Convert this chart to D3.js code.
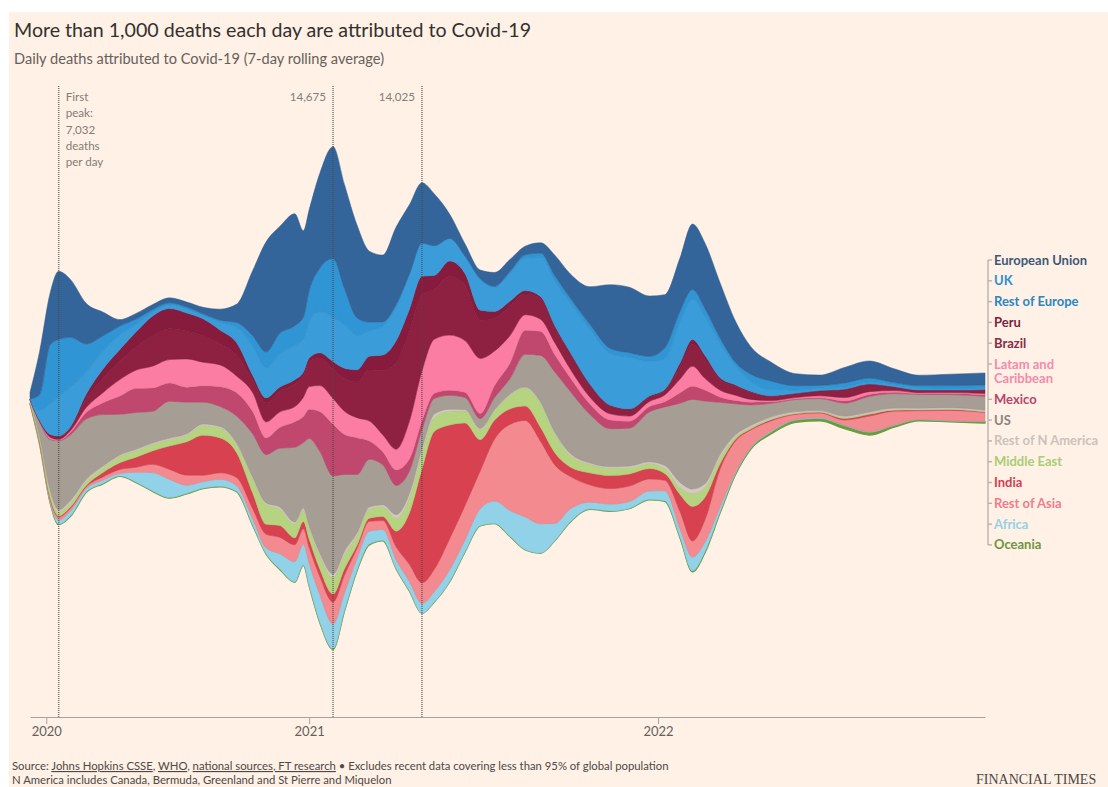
<!DOCTYPE html>
<html>
<head>
<meta charset="utf-8">
<script src="https://cdn.jsdelivr.net/npm/d3@7"></script>
<style>
  body { margin: 0; background: #ffffff; }
  svg text { font-family: Lato, "Open Sans", sans-serif; }
</style>
</head>
<body>
<svg id="chart" width="1108" height="787"></svg>
<script>
// sample dates (7-day rolling average, deaths per day)
const dates = [
  "2020-03-15","2020-03-25","2020-04-05","2020-04-14","2020-04-26","2020-05-13","2020-05-30","2020-06-17",
  "2020-07-04","2020-07-21","2020-08-08","2020-08-26","2020-09-12","2020-09-30","2020-10-17","2020-11-03",
  "2020-11-17","2020-12-01","2020-12-17","2020-12-26","2021-01-01","2021-01-12","2021-01-26","2021-02-07","2021-02-20",
  "2021-03-05","2021-03-19","2021-04-02","2021-04-16","2021-04-29","2021-05-12","2021-05-28","2021-06-13",
  "2021-06-29","2021-07-14","2021-07-30","2021-08-15","2021-08-31","2021-09-15","2021-10-01","2021-10-22",
  "2021-11-12","2021-12-02","2021-12-23","2022-01-08","2022-01-24","2022-02-06","2022-02-19","2022-03-07",
  "2022-03-23","2022-04-08","2022-04-29","2022-05-25","2022-06-19","2022-07-15","2022-08-10","2022-09-05",
  "2022-10-01","2022-11-02","2022-12-09"
];

const europeanUnion = [200,1250,1500,1980,1690,1170,700,190,165,145,145,145,190,320,530,1900,3200,3100,3250,2500,2350,2750,3250,3010,2700,2060,1940,2250,2000,1750,1500,700,350,250,400,350,250,300,600,700,1100,1850,1900,1750,1550,1550,1900,1900,1600,1200,800,550,350,300,450,500,400,300,330,350];
const uk = [5,450,1700,1650,1450,800,450,250,150,80,60,50,40,60,130,300,450,600,560,650,900,1250,1700,1050,500,250,120,50,30,20,15,10,10,15,30,60,90,110,150,130,140,150,130,150,300,300,280,220,150,100,200,250,120,80,120,100,60,60,70,80];
const restOfEurope = [5,300,900,1150,1160,650,520,430,220,110,105,125,105,230,450,850,880,960,1010,950,1050,1200,1290,1270,1010,740,840,1000,1000,950,850,650,500,900,700,800,950,1150,1300,1450,1600,1500,1500,1000,900,1200,1170,1140,1000,550,300,180,100,70,60,70,60,70,60,50];
const peru = [0,5,20,30,35,140,280,350,440,580,590,530,500,400,370,150,150,120,120,110,110,150,230,300,350,400,450,650,650,550,400,450,350,300,200,150,100,60,40,30,25,30,30,40,30,120,150,120,60,50,30,20,10,10,15,20,10,5,10,20];
const brazil = [0,15,60,70,75,250,400,520,670,870,890,800,760,610,600,350,550,600,660,620,720,800,840,950,1040,1480,1870,2500,2600,2200,1450,1700,1600,1100,950,850,600,600,450,450,350,220,180,120,130,350,630,550,300,250,200,120,110,140,230,200,100,70,60,100];
const latam = [2,15,50,30,50,145,290,480,530,630,680,820,680,630,480,550,460,450,440,560,660,750,750,670,580,580,490,600,1100,1450,1570,1600,1500,1600,1000,800,450,350,350,250,200,180,150,150,200,400,580,340,200,150,80,40,40,60,100,80,50,30,30,40];
const mexico = [0,2,20,15,67,190,340,530,700,680,530,435,480,580,680,650,490,600,740,760,850,1150,1500,1160,1070,530,380,450,350,250,150,150,150,150,350,450,700,700,500,400,300,250,200,150,150,300,380,320,150,100,80,40,20,20,60,60,40,20,30,40];
const us = [10,400,1450,2000,1910,1750,1500,1180,1070,920,1070,920,630,580,780,1250,1400,1700,2170,1900,2530,2950,2850,2230,1700,1390,1160,850,650,550,450,400,350,280,350,450,950,1350,1750,1800,1400,1100,1100,1450,1700,2300,2600,2400,1500,900,600,400,350,350,380,450,420,400,380,400];
const restOfNAmerica = [1,15,60,60,60,50,40,40,40,40,40,40,40,40,40,50,40,60,60,60,75,90,100,90,70,60,50,100,120,120,90,60,40,30,25,25,30,40,50,50,40,40,50,50,80,150,130,110,80,50,50,50,40,30,40,40,40,40,40,40];
const middleEast = [90,160,180,116,125,125,145,190,190,190,190,190,290,290,240,420,580,480,400,330,320,380,480,420,290,260,290,380,450,480,420,400,350,300,280,400,520,700,550,350,250,220,180,150,150,200,380,290,200,80,50,30,20,20,30,30,20,15,15,15];
const india = [0,3,20,30,40,40,125,190,290,390,680,970,1160,1010,725,450,290,340,200,210,230,210,230,180,90,90,120,450,1500,3300,4000,3300,2400,900,550,450,420,400,350,270,350,380,350,300,200,500,1000,650,150,50,30,30,20,20,40,50,30,20,25,10];
const restOfAsia = [25,60,80,90,80,60,97,115,145,240,290,290,190,190,240,300,400,480,490,450,470,530,640,520,290,290,260,380,500,600,650,900,1000,1100,1800,2500,2800,2400,1700,950,500,450,450,350,300,500,470,650,1100,900,500,300,150,130,150,450,400,250,300,260];
const africa = [1,10,40,120,145,95,97,80,290,530,530,240,190,210,165,180,170,440,590,600,650,800,720,520,350,380,320,260,280,280,300,350,350,500,650,750,950,850,500,380,200,200,200,250,300,250,400,280,150,50,30,30,20,30,20,20,15,10,10,10];
const oceania = [0,2,5,15,15,15,12,10,10,12,15,15,12,10,10,10,10,10,10,10,10,12,15,15,15,15,10,5,5,5,3,3,3,3,3,3,5,5,5,5,5,10,10,10,10,20,30,30,30,30,30,50,60,70,80,80,50,30,20,40];

const seriesNames = ["European Union","UK","Rest of Europe","Peru","Brazil","Latam and Caribbean","Mexico","US","Rest of N America","Middle East","India","Rest of Asia","Africa","Oceania"];
const seriesValues = [europeanUnion, uk, restOfEurope, peru, brazil, latam, mexico, us, restOfNAmerica, middleEast, india, restOfAsia, africa, oceania];
const legendLines = [["European Union"],["UK"],["Rest of Europe"],["Peru"],["Brazil"],["Latam and","Caribbean"],["Mexico"],["US"],["Rest of N America"],["Middle East"],["India"],["Rest of Asia"],["Africa"],["Oceania"]];

const tickDates = ["2020-04-01","2021-01-01","2022-01-01"];
const peakDates = ["2020-04-14","2021-01-26","2021-04-29"];
const peakLabels = [["First","peak:","7,032","deaths","per day"],["14,675"],["14,025"]];

const fills = ["#33649a","#2f95d4","#3a9dd9","#861b3d","#8e2042","#fb7da3","#c0486f","#a69d95","#d2cac2","#b6d47f","#d8414f","#f38a90","#91d2e8","#6b9b3b"];
const textColors = ["#3e5878","#2b8fd4","#2a86c2","#7a1f3e","#8a2b45","#f58bab","#b8456c","#8c847d","#cbc3bb","#aacd72","#d23e50","#ef7d8b","#96d0e5","#6e9440"];

const parseDate = d3.timeParse("%Y-%m-%d");
const width = 1108, height = 787;

const rows = dates.map((d, i) => {
  const row = { date: parseDate(d) };
  seriesNames.forEach((name, j) => { row[name] = seriesValues[j][i]; });
  return row;
});

const svg = d3.select("#chart");

svg.append("rect")
  .attr("x", 9).attr("y", 12)
  .attr("width", width - 9).attr("height", height - 12)
  .attr("fill", "#fff1e5");

// titles
svg.append("text")
  .attr("x", 14).attr("y", 37)
  .attr("font-size", 19.6)
  .attr("fill", "#33302e")
  .text("More than 1,000 deaths each day are attributed to Covid-19");

svg.append("text")
  .attr("x", 14).attr("y", 64)
  .attr("font-size", 14.6)
  .attr("fill", "#66605c")
  .text("Daily deaths attributed to Covid-19 (7-day rolling average)");

// scales
const x = d3.scaleTime()
  .domain([parseDate("2020-03-15"), parseDate("2022-12-09")])
  .range([30, 985]);

const y = d3.scaleLinear()
  .domain([-9000, 9000])
  .range([708, 88]);

// bottom of stack first
const stackKeys = seriesNames.slice().reverse();
const stack = d3.stack()
  .keys(stackKeys)
  .order(d3.stackOrderNone)
  .offset(d3.stackOffsetSilhouette);
const layers = stack(rows);

const area = d3.area()
  .x(d => x(d.data.date))
  .y0(d => y(d[0]))
  .y1(d => y(d[1]))
  .curve(d3.curveMonotoneX);

const colorOf = name => fills[seriesNames.indexOf(name)];

svg.append("g")
  .selectAll("path")
  .data(layers)
  .join("path")
  .attr("fill", d => colorOf(d.key))
  .attr("stroke", d => d.key === "Oceania" ? "#6b9b3b" : d3.color(colorOf(d.key)).darker(0.25))
  .attr("stroke-width", d => d.key === "Oceania" ? 1.3 : 0.5)
  .attr("d", area);

// x axis
const xAxis = d3.axisBottom(x)
  .tickValues(tickDates.map(parseDate))
  .tickFormat(d3.timeFormat("%Y"))
  .tickSize(7)
  .tickSizeOuter(0);

const gx = svg.append("g")
  .attr("transform", "translate(0,717)")
  .call(xAxis);
gx.select(".domain").attr("stroke", "#a9a29c");
gx.selectAll(".tick line").attr("stroke", "#a9a29c");
gx.selectAll(".tick text")
  .attr("font-size", 13)
  .attr("fill", "#66605c")
  .style("font-family", "Lato, sans-serif");

// peak markers
peakDates.forEach((d, i) => {
  const px = x(parseDate(d));
  svg.append("line")
    .attr("x1", px).attr("x2", px)
    .attr("y1", 86).attr("y2", 717)
    .attr("stroke", "#4e4945")
    .attr("stroke-opacity", 0.75)
    .attr("stroke-width", 1.5)
    .attr("stroke-dasharray", "1,1");
  const lines = peakLabels[i];
  const t = svg.append("text")
    .attr("font-size", 11.6)
    .attr("fill", "#837d78")
    .attr("text-anchor", i === 0 ? "start" : "end");
  lines.forEach((line, k) => {
    t.append("tspan")
      .attr("x", i === 0 ? px + 7 : px - 7)
      .attr("y", 101 + k * 16.3)
      .text(line);
  });
});

// legend
const legend = svg.append("g");
let ly = 260;
const rowYs = [];
legendLines.forEach((lines, i) => {
  rowYs.push(ly);
  const t = legend.append("text")
    .attr("font-size", 13)
    .attr("font-weight", 700)
    .attr("fill", textColors[i]);
  lines.forEach((line, k) => {
    t.append("tspan")
      .attr("x", 994)
      .attr("y", ly + k * 14.5)
      .attr("dy", "0.35em")
      .text(line);
  });
  ly += 20.8 + (lines.length - 1) * 14.5;
});
legend.append("line")
  .attr("x1", 988).attr("x2", 988)
  .attr("y1", rowYs[0]).attr("y2", rowYs[rowYs.length - 1])
  .attr("stroke", "#b5aea8").attr("stroke-width", 1.3);
legend.selectAll(".stub")
  .data(rowYs)
  .join("line")
  .attr("class", "stub")
  .attr("x1", 988).attr("x2", 992)
  .attr("y1", d => d).attr("y2", d => d)
  .attr("stroke", "#b5aea8").attr("stroke-width", 1.3);

// footer
const src = svg.append("text")
  .attr("x", 12).attr("y", 770)
  .attr("font-size", 11.3)
  .attr("fill", "#4d4845");
src.append("tspan").text("Source: ");
src.append("tspan").attr("text-decoration", "underline").text("Johns Hopkins CSSE");
src.append("tspan").text(", ");
src.append("tspan").attr("text-decoration", "underline").text("WHO");
src.append("tspan").text(", ");
src.append("tspan").attr("text-decoration", "underline").text("national sources, FT research");
src.append("tspan").text(" \u2022 Excludes recent data covering less than 95% of global population");

svg.append("text")
  .attr("x", 12).attr("y", 784)
  .attr("font-size", 11.3)
  .attr("fill", "#4d4845")
  .text("N America includes Canada, Bermuda, Greenland and St Pierre and Miquelon");

svg.append("text")
  .attr("x", 976).attr("y", 784)
  .attr("font-size", 14)
  .attr("fill", "#4d4845")
  .style("font-family", "'Liberation Serif', 'DejaVu Serif', serif")
  .text("FINANCIAL TIMES");
</script>
</body>
</html>
